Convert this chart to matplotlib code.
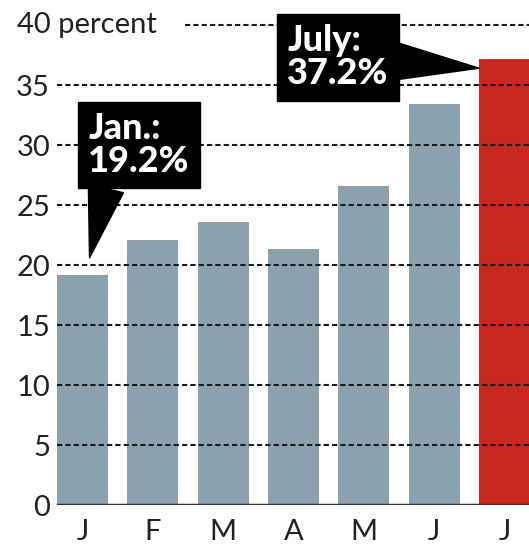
import matplotlib
matplotlib.use('Agg')
import matplotlib.pyplot as plt

# Monthly share, percent
months = ['J', 'F', 'M', 'A', 'M', 'J', 'J']
values = [19.2, 22.1, 23.6, 21.3, 26.6, 33.4, 37.2]
y_ticks = [0, 5, 10, 15, 20, 25, 30, 35]
gray = '#8ba1ae'
red = '#c8281e'
colors = [gray] * 6 + [red]

plt.rcParams['font.family'] = ['Lato', 'DejaVu Sans']

fig = plt.figure(figsize=(5.29, 5.49), dpi=100)
ax = fig.add_axes([57 / 529, 44 / 549, 472 / 529, 504 / 549])

x = list(range(len(months)))
ax.bar(x, values, width=0.725, color=colors, zorder=1)

ax.set_xlim(-0.3625, 6.35)
ax.set_ylim(0, 42)

# dashed grid lines over the bars
dash = (0, (2.5, 1.5))
for t in y_ticks[1:]:
    ax.axhline(t, color='#1a1a1a', lw=1.5, ls=dash, zorder=2)
ax.axhline(40, xmin=(185 - 57) / 472, color='#1a1a1a', lw=1.5, ls=dash, zorder=2)
ax.axhline(0, color='#333333', lw=2.5, zorder=3)

ax.set_yticks(y_ticks)
ax.set_yticklabels([str(t) for t in y_ticks])
ax.set_xticks(x)
ax.set_xticklabels(months)
ax.tick_params(axis='both', length=0, labelsize=21, colors='#222222')
ax.tick_params(axis='y', pad=5)
ax.tick_params(axis='x', pad=10)
ax.text(-40 / 472, 40, '40 percent', transform=ax.get_yaxis_transform(),
        ha='left', va='center', fontsize=21, color='#222222')

for s in ax.spines.values():
    s.set_visible(False)

bold = dict(family=['Lato', 'DejaVu Sans'], weight='black',
            fontsize=26, color='white', linespacing=1.0, ha='left', va='center')
box = dict(boxstyle='square,pad=0.28', fc='black', ec='black')

ax.annotate('Jan.:\n19.2%', xy=(0.1, values[0] + 1.4), xytext=(0.08, 30.0),
            bbox=box, zorder=5,
            arrowprops=dict(arrowstyle='wedge,tail_width=1.0', fc='black', ec='black',
                            relpos=(0.2, 0.0), shrinkA=0, shrinkB=0),
            **bold)
ax.annotate('July:\n37.2%', xy=(6 - 0.36, values[6] - 0.8), xytext=(2.91, 37.3),
            bbox=box, zorder=5,
            arrowprops=dict(arrowstyle='wedge,tail_width=1.0', fc='black', ec='black',
                            relpos=(1.0, 0.45), shrinkA=0, shrinkB=0),
            **bold)

fig.savefig('out.png', dpi=100)
